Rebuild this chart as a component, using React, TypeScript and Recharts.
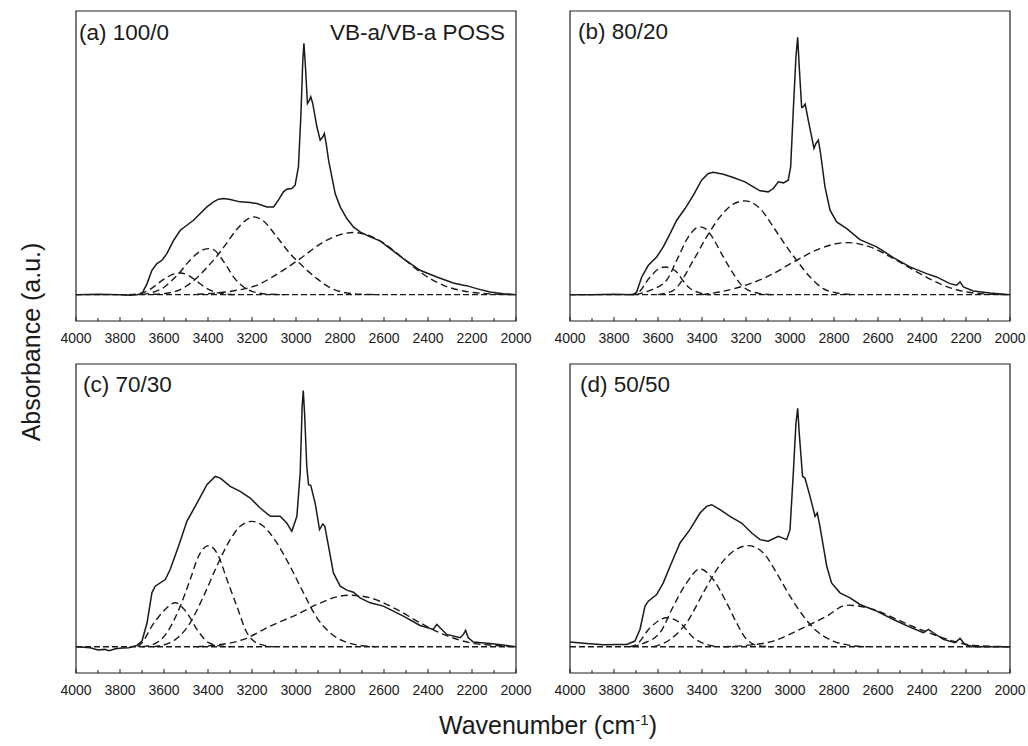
import React from "react";
import { LineChart, Line, XAxis, YAxis, ReferenceArea } from "recharts";

type Pt = [number, number];

const FONT = "'Liberation Sans', Arial, sans-serif";
const INK = "#1a1a1a";

const X_TICKS = [
  4000, 3900, 3800, 3700, 3600, 3500, 3400, 3300, 3200, 3100, 3000, 2900,
  2800, 2700, 2600, 2500, 2400, 2300, 2200, 2100, 2000,
];
const X_DOMAIN: [number, number] = [2000, 4000];
const Y_DOMAIN: [number, number] = [-0.79, 8.5];

const baseline: Pt[] = [[4000, 0], [2000, 0]];

// (a) 100/0
const aSpectrum: Pt[] = [
  [4000, 0], [3900, 0.01], [3800, 0], [3760, -0.02], [3723, 0], [3700, 0.03],
  [3677, 0.33], [3655, 0.73], [3632, 0.93], [3609, 1.03], [3587, 1.23],
  [3556, 1.63], [3526, 1.93], [3496, 2.08], [3466, 2.23], [3435, 2.43],
  [3405, 2.63], [3375, 2.78], [3352, 2.86], [3329, 2.88], [3299, 2.85],
  [3254, 2.78], [3208, 2.76], [3178, 2.73], [3132, 2.63], [3102, 2.63],
  [3080, 2.83], [3057, 3.08], [3042, 3.16], [3019, 3.18], [3004, 3.28],
  [2989, 3.83], [2978, 5.33], [2969, 7.03], [2964, 7.53], [2957, 6.83],
  [2948, 5.73], [2939, 5.83], [2933, 5.93], [2924, 5.73], [2905, 5.03],
  [2890, 4.63], [2878, 4.73], [2871, 4.83], [2863, 4.53], [2852, 4.03],
  [2837, 3.53], [2822, 3.03], [2799, 2.63], [2769, 2.28], [2739, 2.03],
  [2709, 1.88], [2663, 1.73], [2618, 1.61], [2572, 1.38], [2512, 1.08],
  [2436, 0.73], [2360, 0.53], [2285, 0.35], [2239, 0.28], [2224, 0.27],
  [2179, 0.18], [2118, 0.08], [2058, 0.03], [2000, 0],
];
const aBand1: Pt[] = [
  [3760, 0], [3700, 0.05], [3650, 0.22], [3610, 0.42], [3570, 0.58],
  [3526, 0.65], [3490, 0.58], [3450, 0.4], [3410, 0.2], [3370, 0.08],
  [3320, 0.02], [3280, 0],
];
const aBand2: Pt[] = [
  [3700, 0], [3647, 0.08], [3600, 0.22], [3572, 0.38], [3530, 0.65],
  [3496, 0.93], [3450, 1.23], [3420, 1.35], [3397, 1.38], [3370, 1.33],
  [3344, 1.13], [3310, 0.8], [3284, 0.53], [3238, 0.23], [3200, 0.1],
  [3178, 0.06], [3117, 0.01], [3050, 0],
];
const aBand3: Pt[] = [
  [3650, 0.01], [3580, 0.05], [3520, 0.17], [3460, 0.45], [3400, 0.85],
  [3360, 1.15], [3320, 1.5], [3270, 1.95], [3230, 2.22], [3193, 2.33],
  [3150, 2.22], [3087, 1.73], [3027, 1.23], [2966, 0.83], [2905, 0.48],
  [2845, 0.21], [2769, 0.05], [2693, 0.01], [2620, 0],
];
const aBand4: Pt[] = [
  [3450, 0.01], [3360, 0.05], [3269, 0.13], [3178, 0.28], [3087, 0.61],
  [2981, 1.08], [2875, 1.58], [2799, 1.8], [2739, 1.86], [2663, 1.76],
  [2603, 1.55], [2512, 1.08], [2421, 0.61], [2330, 0.28], [2239, 0.11],
  [2134, 0.03], [2000, 0],
];

// (b) 80/20
const bSpectrum: Pt[] = [
  [4000, 0], [3900, 0], [3800, 0.01], [3712, 0], [3697, 0.08], [3674, 0.53],
  [3644, 0.88], [3606, 1.13], [3576, 1.43], [3545, 1.83], [3515, 2.23],
  [3477, 2.58], [3439, 2.98], [3402, 3.43], [3371, 3.63], [3349, 3.67],
  [3303, 3.61], [3258, 3.51], [3205, 3.38], [3167, 3.23], [3136, 3.11],
  [3099, 3.08], [3076, 3.18], [3053, 3.38], [3030, 3.35], [3008, 3.43],
  [2997, 3.83], [2985, 5.53], [2973, 7.13], [2965, 7.71], [2958, 6.83],
  [2947, 5.61], [2940, 5.63], [2931, 5.71], [2917, 5.23], [2891, 4.38],
  [2882, 4.53], [2871, 4.63], [2861, 4.23], [2841, 3.23], [2818, 2.53],
  [2788, 2.18], [2742, 1.98], [2682, 1.65], [2606, 1.43], [2530, 1.11],
  [2455, 0.83], [2379, 0.63], [2334, 0.53], [2273, 0.33], [2243, 0.28],
  [2227, 0.38], [2212, 0.23], [2167, 0.11], [2091, 0.05], [2000, 0],
];
const bBand1: Pt[] = [
  [3730, 0], [3697, 0.03], [3636, 0.53], [3600, 0.76], [3568, 0.83],
  [3540, 0.78], [3515, 0.68], [3490, 0.45], [3462, 0.23], [3409, 0.05],
  [3360, 0],
];
const bBand2: Pt[] = [
  [3700, 0], [3636, 0.13], [3561, 0.43], [3515, 1.03], [3462, 1.73],
  [3430, 1.98], [3409, 2.03], [3385, 1.98], [3364, 1.83], [3303, 1.13],
  [3258, 0.63], [3212, 0.23], [3136, 0.03], [3080, 0],
];
const bBand3: Pt[] = [
  [3600, 0], [3530, 0.13], [3439, 1.03], [3379, 1.73], [3318, 2.33],
  [3258, 2.71], [3205, 2.81], [3136, 2.58], [3076, 2.03], [3015, 1.43],
  [2970, 1.03], [2909, 0.53], [2849, 0.18], [2788, 0.05], [2712, 0],
];
const bBand4: Pt[] = [
  [3400, 0], [3320, 0.08], [3227, 0.23], [3106, 0.53], [2970, 1.03],
  [2864, 1.38], [2742, 1.56], [2636, 1.43], [2530, 1.08], [2409, 0.63],
  [2303, 0.28], [2197, 0.08], [2076, 0.01], [2000, 0],
];

// (c) 70/30
const cSpectrum: Pt[] = [
  [4000, 0], [3935, -0.03], [3900, -0.1], [3870, -0.08], [3850, -0.12],
  [3820, -0.06], [3790, -0.04], [3760, -0.03], [3723, 0.04], [3700, 0.17],
  [3677, 0.72], [3655, 1.62], [3640, 1.82], [3594, 2.02], [3572, 2.32],
  [3534, 3.02], [3496, 3.77], [3450, 4.32], [3405, 4.87], [3367, 5.12],
  [3344, 5.07], [3299, 4.82], [3254, 4.67], [3208, 4.47], [3163, 4.17],
  [3117, 3.92], [3072, 3.92], [3042, 3.72], [3019, 3.47], [2996, 3.92],
  [2981, 5.22], [2972, 7.22], [2967, 7.7], [2961, 7.02], [2951, 5.42],
  [2943, 4.87], [2933, 4.85], [2913, 4.32], [2893, 3.52], [2878, 3.69],
  [2869, 3.62], [2852, 3.02], [2830, 2.22], [2799, 1.82], [2769, 1.7],
  [2739, 1.64], [2709, 1.47], [2663, 1.32], [2603, 1.22], [2512, 0.92],
  [2436, 0.64], [2376, 0.52], [2360, 0.67], [2345, 0.57], [2315, 0.37],
  [2254, 0.27], [2239, 0.37], [2229, 0.49], [2217, 0.27], [2194, 0.14],
  [2118, 0.1], [2058, 0.05], [2000, 0],
];
const cBand1: Pt[] = [
  [3720, 0], [3700, 0.12], [3655, 0.62], [3602, 1.07], [3549, 1.32],
  [3496, 1.02], [3450, 0.52], [3397, 0.12], [3344, 0.02], [3300, 0],
];
const cBand2: Pt[] = [
  [3700, 0], [3662, 0.04], [3587, 0.42], [3526, 1.22], [3481, 2.02],
  [3443, 2.72], [3397, 3.04], [3352, 2.72], [3314, 2.02], [3269, 1.22],
  [3223, 0.42], [3163, 0.07], [3100, 0],
];
const cBand3: Pt[] = [
  [3650, 0], [3572, 0.12], [3481, 0.72], [3420, 1.52], [3360, 2.42],
  [3299, 3.22], [3254, 3.62], [3201, 3.77], [3148, 3.62], [3087, 3.12],
  [3027, 2.42], [2966, 1.62], [2905, 0.87], [2845, 0.42], [2784, 0.17],
  [2709, 0.04], [2640, 0],
];
const cBand4: Pt[] = [
  [3450, 0], [3375, 0.04], [3238, 0.22], [3117, 0.62], [2996, 0.97],
  [2905, 1.27], [2814, 1.5], [2754, 1.55], [2663, 1.47], [2542, 1.12],
  [2436, 0.72], [2330, 0.37], [2209, 0.12], [2103, 0.04], [2000, 0],
];

// (d) 50/50
const dSpectrum: Pt[] = [
  [4000, 0.14], [3924, 0.1], [3848, 0.06], [3790, 0.07], [3742, 0.07],
  [3705, 0.17], [3682, 0.52], [3659, 1.22], [3644, 1.37], [3606, 1.57],
  [3576, 1.92], [3545, 2.42], [3500, 3.12], [3455, 3.52], [3409, 4.02],
  [3379, 4.22], [3356, 4.27], [3318, 4.12], [3273, 3.92], [3220, 3.72],
  [3174, 3.42], [3136, 3.22], [3099, 3.17], [3053, 3.32], [3015, 3.22],
  [3000, 3.52], [2985, 5.22], [2973, 6.72], [2965, 7.17], [2958, 6.42],
  [2943, 5.12], [2932, 5.07], [2909, 4.52], [2886, 3.92], [2876, 4.02],
  [2864, 3.62], [2833, 2.42], [2811, 1.92], [2773, 1.62], [2727, 1.47],
  [2682, 1.27], [2606, 1.07], [2530, 0.82], [2455, 0.59], [2394, 0.42],
  [2371, 0.52], [2349, 0.42], [2303, 0.22], [2250, 0.12], [2227, 0.25],
  [2205, 0.07], [2167, 0], [2000, 0],
];
const dBand1: Pt[] = [
  [3730, 0], [3697, 0.07], [3636, 0.57], [3561, 0.87], [3500, 0.72],
  [3439, 0.27], [3379, 0.07], [3330, 0],
];
const dBand2: Pt[] = [
  [3720, 0], [3667, 0.1], [3591, 0.42], [3530, 1.22], [3470, 1.92],
  [3409, 2.34], [3349, 2.02], [3288, 1.32], [3243, 0.72], [3197, 0.22],
  [3136, 0.02], [3080, 0],
];
const dBand3: Pt[] = [
  [3620, 0], [3545, 0.22], [3470, 0.72], [3394, 1.62], [3333, 2.32],
  [3258, 2.87], [3189, 3.04], [3121, 2.82], [3061, 2.22], [3000, 1.52],
  [2939, 0.92], [2879, 0.47], [2803, 0.17], [2727, 0.04], [2650, 0],
];
const dBand4: Pt[] = [
  [3300, 0], [3197, 0.04], [3076, 0.17], [2955, 0.52], [2833, 0.92],
  [2742, 1.25], [2621, 1.12], [2530, 0.87], [2439, 0.6], [2349, 0.37],
  [2258, 0.17], [2167, 0.04], [2000, 0],
];

const rows = (pts: Pt[]) => pts.map(([w, v]) => ({ w, v }));

function XTick(props: any) {
  const { x, y, payload } = props;
  const major = payload.value % 200 === 0;
  return (
    <g>
      <line x1={x} x2={x} y1={y} y2={y - (major ? 4 : 3)} stroke={INK} strokeWidth={1} />
      {major && (
        <text x={x} y={y + 22} textAnchor="middle" fontSize={14} fontFamily={FONT} fill={INK}>
          {payload.value}
        </text>
      )}
    </g>
  );
}

interface PanelProps {
  left: number;
  top: number;
  plotHeight: number;
  spectrum: Pt[];
  bands: Pt[][];
}

function Panel({ left, top, plotHeight, spectrum, bands }: PanelProps) {
  return (
    <div style={{ position: "absolute", left, top }}>
      <LineChart
        width={474}
        height={11 + plotHeight + 29}
        margin={{ top: 11, right: 18, bottom: 0, left: 16 }}
      >
        <XAxis
          xAxisId="b"
          dataKey="w"
          type="number"
          domain={X_DOMAIN}
          reversed
          allowDataOverflow
          ticks={X_TICKS}
          interval={0}
          tickSize={0}
          tickMargin={0}
          tickLine={false}
          axisLine={false}
          height={29}
          tick={<XTick />}
        />
        <YAxis
          yAxisId="l"
          type="number"
          domain={Y_DOMAIN}
          allowDataOverflow
          width={0}
          tick={false}
          tickLine={false}
          axisLine={false}
        />
        {/* box frame */}
        <ReferenceArea
          xAxisId="b"
          yAxisId="l"
          x1={4000}
          x2={2000}
          y1={Y_DOMAIN[0]}
          y2={Y_DOMAIN[1]}
          fill="none"
          fillOpacity={0}
          stroke="#222"
          strokeWidth={1.2}
          ifOverflow="visible"
        />
        <Line
          xAxisId="b"
          yAxisId="l"
          data={rows(baseline)}
          dataKey="v"
          type="linear"
          stroke={INK}
          strokeWidth={1.4}
          strokeDasharray="6 3"
          dot={false}
          isAnimationActive={false}
        />
        {bands.map((band, i) => (
          <Line
            key={i}
            xAxisId="b"
            yAxisId="l"
            data={rows(band)}
            dataKey="v"
            type="monotone"
            stroke={INK}
            strokeWidth={1.4}
            strokeDasharray="7 4"
            dot={false}
            isAnimationActive={false}
          />
        ))}
        <Line
          xAxisId="b"
          yAxisId="l"
          data={rows(spectrum)}
          dataKey="v"
          type="linear"
          stroke={INK}
          strokeWidth={1.5}
          dot={false}
          isAnimationActive={false}
        />
      </LineChart>
    </div>
  );
}

export default function App() {
  return (
    <div
      style={{
        position: "absolute",
        left: 0,
        top: 0,
        width: 1028,
        height: 746,
        background: "#fff",
        fontFamily: FONT,
      }}
    >
      <Panel left={60} top={0} plotHeight={310} spectrum={aSpectrum} bands={[aBand1, aBand2, aBand3, aBand4]} />
      <Panel left={554} top={0} plotHeight={310} spectrum={bSpectrum} bands={[bBand1, bBand2, bBand3, bBand4]} />
      <Panel left={60} top={353} plotHeight={309} spectrum={cSpectrum} bands={[cBand1, cBand2, cBand3, cBand4]} />
      <Panel left={554} top={353} plotHeight={309} spectrum={dSpectrum} bands={[dBand1, dBand2, dBand3, dBand4]} />
      <svg
        width={1028}
        height={746}
        style={{ position: "absolute", left: 0, top: 0, pointerEvents: "none" }}
        fontFamily={FONT}
        fill={INK}
      >
        <text x={79} y={40} fontSize={22.5}>(a) 100/0</text>
        <text x={505} y={40} fontSize={22.5} textAnchor="end">VB-a/VB-a POSS</text>
        <text x={578} y={39} fontSize={22.5}>(b) 80/20</text>
        <text x={83} y={392} fontSize={22.5}>(c) 70/30</text>
        <text x={580} y={392} fontSize={22.5}>(d) 50/50</text>
        <text
          x={0}
          y={0}
          fontSize={25}
          textAnchor="middle"
          transform="translate(40 342) rotate(-90)"
        >
          Absorbance (a.u.)
        </text>
        <text x={548} y={734} fontSize={25} textAnchor="middle">
          Wavenumber (cm
          <tspan dy={-9} fontSize={15}>-1</tspan>
          <tspan dy={9}>)</tspan>
        </text>
      </svg>
    </div>
  );
}
